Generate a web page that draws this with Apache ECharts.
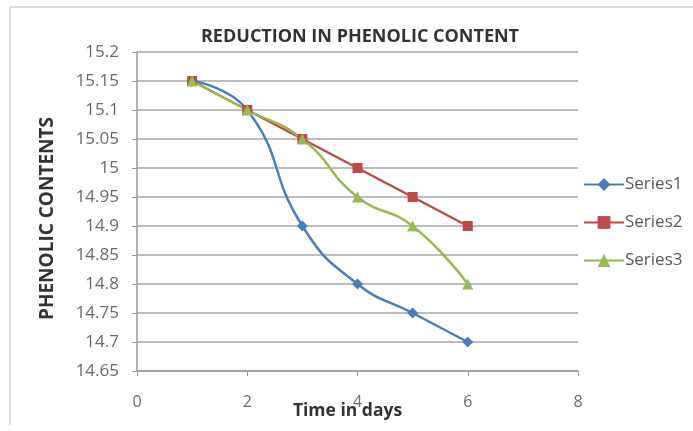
<!DOCTYPE html>
<html>
<head>
<meta charset="utf-8">
<script src="https://cdn.jsdelivr.net/npm/echarts@6/dist/echarts.min.js"></script>
<style>html,body{margin:0;padding:0;background:#fff;}#c{width:693px;height:431px;}</style>
</head>
<body>
<div id="c"></div>
<script>
var days = [1, 2, 3, 4, 5, 6];
var series1 = [15.15, 15.1, 14.9, 14.8, 14.75, 14.7];
var series2 = [15.15, 15.1, 15.05, 15.0, 14.95, 14.9];
var series3 = [15.15, 15.1, 15.05, 14.95, 14.9, 14.8];
var seriesNames = ['Series1', 'Series2', 'Series3'];
var xTicks = [0, 2, 4, 6, 8];
var yTicks = [14.65, 14.7, 14.75, 14.8, 14.85, 14.9, 14.95, 15, 15.05, 15.1, 15.15, 15.2];

function pairs(xs, ys) { return xs.map(function (x, i) { return [x, ys[i]]; }); }

var FONT = '"Open Sans", sans-serif';
var chart = echarts.init(document.getElementById('c'), null, { renderer: 'canvas' });
chart.setOption({
  animation: false,
  backgroundColor: '#fff',
  title: {
    text: 'REDUCTION IN PHENOLIC CONTENT',
    left: 355, top: 23, textAlign: 'center',
    textStyle: { fontFamily: FONT, fontSize: 18, fontWeight: 'bold', color: '#333' }
  },
  graphic: [
    { type: 'line', shape: { x1: 10, y1: 7, x2: 693, y2: 7 }, style: { stroke: '#d0d0d0', lineWidth: 1.5 } },
    { type: 'line', shape: { x1: 10, y1: 7, x2: 10, y2: 425 }, style: { stroke: '#d0d0d0', lineWidth: 1.5 } }
  ],
  grid: { left: 137, right: 115, top: 52, bottom: 60, containLabel: false, outerBoundsMode: 'none' },
  legend: {
    orient: 'vertical', left: 578, top: 171,
    itemWidth: 40, itemHeight: 16, itemGap: 21,
    data: seriesNames,
    textStyle: { fontFamily: FONT, fontSize: 17, color: '#595959', padding: [0, 0, 0, -4] }
  },
  xAxis: {
    type: 'value', min: xTicks[0], max: xTicks[xTicks.length - 1], interval: 2,
    name: 'Time in days', nameLocation: 'middle', nameGap: 31, nameMoveOverlap: false,
    nameTextStyle: { fontFamily: FONT, fontSize: 17.5, fontWeight: 'bold', color: '#333', padding: [0, 20, 0, 0] },
    axisLine: { lineStyle: { color: '#9a9a9a', width: 1.5 } },
    axisTick: { show: true, length: 5, lineStyle: { color: '#9a9a9a' } },
    axisLabel: { fontFamily: FONT, fontSize: 16, color: '#6a6a6a', margin: 23 },
    splitLine: { show: false }
  },
  yAxis: {
    type: 'value', min: yTicks[0], max: yTicks[yTicks.length - 1], interval: 0.05,
    name: 'PHENOLIC CONTENTS', nameLocation: 'middle', nameGap: 80, nameRotate: 90, nameMoveOverlap: false,
    nameTextStyle: { fontFamily: FONT, fontSize: 19, fontWeight: 'bold', color: '#333', padding: [0, 14, 0, 0] },
    axisLine: { show: true, lineStyle: { color: '#9a9a9a', width: 1.5 } },
    axisTick: { show: true, length: 5, lineStyle: { color: '#9a9a9a' } },
    axisLabel: {
      fontFamily: FONT, fontSize: 17, color: '#6a6a6a', margin: 18,
      formatter: function (v) { return String(parseFloat(v.toFixed(2))); }
    },
    splitLine: { show: true, lineStyle: { color: '#a6a6a6', width: 1.5 } }
  },
  series: [
    {
      name: seriesNames[0], type: 'line', smooth: 0.5, data: pairs(days, series1),
      symbol: 'diamond', symbolSize: 11,
      lineStyle: { color: '#4A7EBB', width: 2.5 }, itemStyle: { color: '#4A7EBB' }
    },
    {
      name: seriesNames[1], type: 'line', smooth: 0.5, data: pairs(days, series2),
      symbol: 'rect', symbolSize: 10,
      lineStyle: { color: '#BE4B48', width: 2.5 }, itemStyle: { color: '#BE4B48' }
    },
    {
      name: seriesNames[2], type: 'line', smooth: 0.5, data: pairs(days, series3),
      symbol: 'triangle', symbolSize: 11,
      lineStyle: { color: '#98B954', width: 2.5 }, itemStyle: { color: '#98B954' }
    }
  ]
});
</script>
</body>
</html>
